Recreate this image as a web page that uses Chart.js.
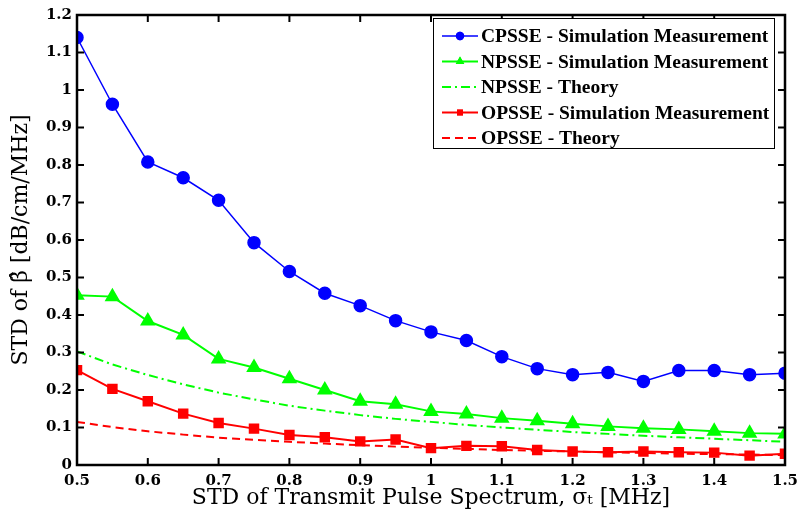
<!DOCTYPE html>
<html>
<head>
<meta charset="utf-8">
<script src="https://cdn.jsdelivr.net/npm/chart.js@4"></script>
<style>
  html, body { margin: 0; padding: 0; background: #fff; }
  #wrap { width: 800px; height: 526px; }
</style>
</head>
<body>
<div id="wrap"><canvas id="c" width="800" height="526"></canvas></div>
<script>
const sigma = [0.5, 0.55, 0.6, 0.65, 0.7, 0.75, 0.8, 0.85, 0.9, 0.95, 1.0,
               1.05, 1.1, 1.15, 1.2, 1.25, 1.3, 1.35, 1.4, 1.45, 1.5];

const cpsseSim = [1.14, 0.962, 0.808, 0.766, 0.706, 0.593, 0.516, 0.458, 0.425, 0.385, 0.355,
                  0.332, 0.289, 0.257, 0.241, 0.247, 0.223, 0.252, 0.252, 0.241, 0.245];
const npsseSim = [0.453, 0.449, 0.384, 0.347, 0.283, 0.260, 0.230, 0.200, 0.170, 0.162, 0.143,
                  0.136, 0.125, 0.118, 0.110, 0.103, 0.098, 0.095, 0.090, 0.085, 0.083];
const npsseTheory = [0.303, 0.268, 0.240, 0.215, 0.193, 0.175, 0.158, 0.145, 0.133, 0.123, 0.115,
                     0.107, 0.100, 0.094, 0.088, 0.083, 0.078, 0.074, 0.070, 0.066, 0.062];
const opsseSim = [0.253, 0.203, 0.170, 0.137, 0.112, 0.097, 0.080, 0.074, 0.063, 0.068, 0.045,
                  0.051, 0.050, 0.040, 0.036, 0.034, 0.036, 0.034, 0.033, 0.025, 0.030];
const opsseTheory = [0.115, 0.101, 0.090, 0.081, 0.073, 0.067, 0.062, 0.057, 0.053, 0.049, 0.046,
                     0.043, 0.040, 0.038, 0.036, 0.034, 0.032, 0.030, 0.029, 0.028, 0.026];

const labels = ["CPSSE - Simulation Measurement", "NPSSE - Simulation Measurement", "NPSSE - Theory",
                "OPSSE - Simulation Measurement", "OPSSE - Theory"];

const xTicks = [0.5, 0.6, 0.7, 0.8, 0.9, 1, 1.1, 1.2, 1.3, 1.4, 1.5];
const yTicks = [0, 0.1, 0.2, 0.3, 0.4, 0.5, 0.6, 0.7, 0.8, 0.9, 1, 1.1, 1.2];

const BLUE = "#0000ff", GREEN = "#00ff00", RED = "#ff0000";
const SERIF = "'Liberation Serif', 'DejaVu Serif', serif";
const WIDE = "'DejaVu Serif', serif";

function pts(ys) { return sigma.map((x, i) => ({ x: x, y: ys[i] })); }

const datasets = [
  { label: labels[0], data: pts(cpsseSim), borderColor: BLUE, backgroundColor: BLUE,
    borderWidth: 1.5, pointStyle: "circle", pointRadius: 6, order: 5 },
  { label: labels[1], data: pts(npsseSim), borderColor: GREEN, backgroundColor: GREEN,
    borderWidth: 2, pointStyle: "triangle", pointRadius: 7, order: 4 },
  { label: labels[2], data: pts(npsseTheory), borderColor: GREEN, backgroundColor: GREEN,
    borderWidth: 2, borderDash: [9, 4, 2, 4], pointRadius: 0, order: 3 },
  { label: labels[3], data: pts(opsseSim), borderColor: RED, backgroundColor: RED,
    borderWidth: 2, pointStyle: "rect", pointRadius: 6, order: 2 },
  { label: labels[4], data: pts(opsseTheory), borderColor: RED, backgroundColor: RED,
    borderWidth: 2, borderDash: [8, 5], pointRadius: 0, order: 1 }
];

// keep the plot box fixed: no extra room for overhanging tick labels
function noPad(s) {
  s.paddingLeft = 0; s.paddingRight = 0; s.paddingTop = 0; s.paddingBottom = 0;
}

// MATLAB style box with inward ticks on all four sides
const boxPlugin = {
  id: "box",
  afterDatasetsDraw(chart) {
    const { ctx, chartArea: a, scales } = chart;
    ctx.save();
    ctx.strokeStyle = "#000";
    ctx.lineWidth = 2;
    ctx.beginPath();
    xTicks.forEach(v => {
      const px = scales.x.getPixelForValue(v);
      ctx.moveTo(px, a.bottom); ctx.lineTo(px, a.bottom - 7);
      ctx.moveTo(px, a.top); ctx.lineTo(px, a.top + 7);
    });
    yTicks.forEach(v => {
      const py = scales.y.getPixelForValue(v);
      ctx.moveTo(a.left, py); ctx.lineTo(a.left + 7, py);
      ctx.moveTo(a.right, py); ctx.lineTo(a.right - 7, py);
    });
    ctx.stroke();
    ctx.lineWidth = 2.5;
    ctx.strokeRect(a.left, a.top, a.right - a.left, a.bottom - a.top);
    ctx.restore();
  },
  afterDraw(chart) {
    // legend box
    const ctx = chart.ctx;
    const bx = 433, by = 18, bw = 341, bh = 130;
    ctx.save();
    ctx.fillStyle = "#fff";
    ctx.fillRect(bx, by, bw, bh);
    ctx.strokeStyle = "#000";
    ctx.lineWidth = 1;
    ctx.strokeRect(bx + 0.5, by + 0.5, bw, bh);
    ctx.font = "bold 19.5px " + SERIF;
    ctx.textBaseline = "middle";
    chart.data.datasets.forEach((ds, i) => {
      const y = by + 18 + i * 25.5;
      ctx.strokeStyle = ds.borderColor;
      ctx.lineWidth = ds.borderWidth;
      ctx.setLineDash(ds.borderDash || []);
      ctx.beginPath();
      ctx.moveTo(442, y); ctx.lineTo(478, y);
      ctx.stroke();
      ctx.setLineDash([]);
      if (ds.pointRadius > 0) {
        ctx.fillStyle = ds.backgroundColor;
        Chart.helpers.drawPoint(ctx, { pointStyle: ds.pointStyle, radius: ds.pointRadius * 0.7, rotation: 0, borderWidth: 0 }, 460, y);
        ctx.fill();
      }
      ctx.fillStyle = "#000";
      ctx.fillText(ds.label, 481, y + 1);
    });
    ctx.restore();
  }
};

new Chart(document.getElementById("c"), {
  type: "line",
  data: { datasets: datasets },
  plugins: [boxPlugin],
  options: {
    responsive: false,
    animation: false,
    layout: { padding: { top: 15, right: 15, left: 0, bottom: 0 } },
    plugins: { legend: { display: false }, tooltip: { enabled: false } },
    elements: { line: { tension: 0 }, point: { borderWidth: 0 } },
    scales: {
      x: {
        type: "linear", min: 0.5, max: 1.5,
        afterBuildTicks: s => { s.ticks = xTicks.map(v => ({ value: v })); },
        afterFit: s => { s.height = 61; noPad(s); },
        grid: { display: false, drawTicks: false },
        border: { display: false },
        ticks: { color: "#000", padding: 7, maxRotation: 0,
                 font: { family: WIDE, size: 15, weight: "bold" },
                 callback: v => String(+v.toFixed(2)) },
        title: { display: true, text: "STD of Transmit Pulse Spectrum, σₜ [MHz]", color: "#000",
                 font: { family: WIDE, size: 22 }, padding: { top: 2, bottom: 15 } }
      },
      y: {
        min: 0, max: 1.2,
        afterBuildTicks: s => { s.ticks = yTicks.map(v => ({ value: v })); },
        afterFit: s => { s.width = 77; noPad(s); },
        grid: { display: false, drawTicks: false },
        border: { display: false },
        ticks: { color: "#000", padding: 5,
                 font: { family: WIDE, size: 15, weight: "bold" },
                 callback: v => String(+v.toFixed(2)) },
        title: { display: true, text: "STD of β\u0302 [dB/cm/MHz]", color: "#000",
                 font: { family: WIDE, size: 22 }, padding: { top: 8, bottom: 0 } }
      }
    }
  }
});
</script>
</body>
</html>
